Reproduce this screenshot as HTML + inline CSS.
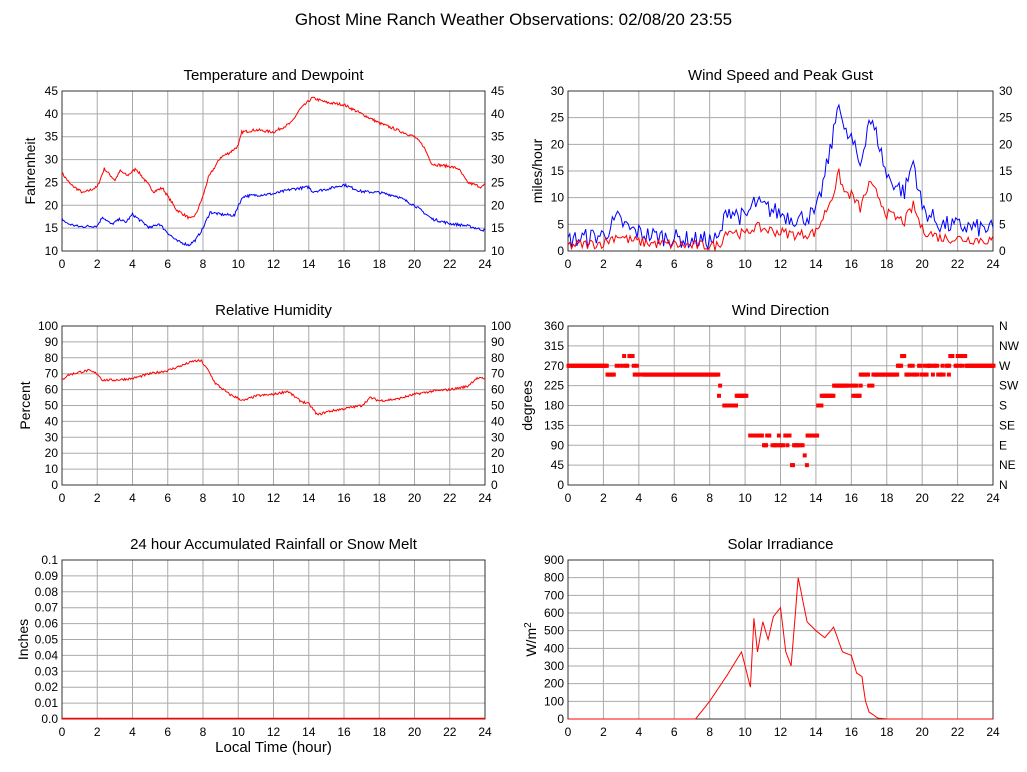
<!DOCTYPE html><html><head><meta charset="utf-8"><style>body{margin:0;background:#fff}svg{display:block;font-family:"Liberation Sans",sans-serif}</style></head><body>
<svg id="s" width="1027" height="772" xmlns="http://www.w3.org/2000/svg"></svg>
<script>
var S=document.getElementById('s'),h='';
var seed=7;function rnd(){seed=(seed*16807)%2147483647;return seed/2147483647;}
function T(x,y,t,sz,a,extra){h+='<text x="'+x+'" y="'+y+'" font-size="'+sz+'" text-anchor="'+(a||'middle')+'" '+(extra||'')+'>'+t+'</text>';}
T(513.5,25,'Ghost Mine Ranch Weather Observations: 02/08/20 23:55',17);
function panel(P){var x0=P.x0,x1=P.x1,y0=P.y0,y1=P.y1,n=P.n;
 for(var i=0;i<=12;i++){var x=x0+(x1-x0)*i/12;h+='<line x1="'+x+'" y1="'+y0+'" x2="'+x+'" y2="'+y1+'" stroke="#aaa" stroke-width="1"/>';T(x,y1+17,i*2,12);}
 for(var j=0;j<=n;j++){var y=y1-(y1-y0)*j/n;h+='<line x1="'+x0+'" y1="'+y+'" x2="'+x1+'" y2="'+y+'" stroke="#aaa" stroke-width="1"/>';T(x0-4,y+4,P.lab(j),12,'end');if(P.rl)T(x1+6,y+4,P.rl(j),12,'start');}
 h+='<rect x="'+x0+'" y="'+y0+'" width="'+(x1-x0)+'" height="'+(y1-y0)+'" fill="none" stroke="#333"/>';
 T((x0+x1)/2,y0-11,P.title,15);
 var yc=(y0+y1)/2;h+='<text x="0" y="0" font-size="14" text-anchor="middle" transform="translate('+(P.yx)+','+yc+') rotate(-90)">'+P.yl+'</text>';}
function interp(k,t){for(var i=0;i<k.length-2;i+=2){if(t<=k[i+2])return k[i+1]+(k[i+3]-k[i+1])*(t-k[i])/(k[i+2]-k[i]);}return k[k.length-1];}
function series(P,k,col,noise,min,max,step){var d='';step=step||0.05;for(var t=0;t<=24.001;t+=step){var v=interp(k,t)+(rnd()-0.5)*noise;if(min!=null)v=Math.max(min,v);var x=P.x0+(P.x1-P.x0)*t/24,y=P.y1-(P.y1-P.y0)*(v-P.lo)/(P.hi-P.lo);d+=(d?'L':'M')+x.toFixed(1)+','+y.toFixed(1);}h+='<path d="'+d+'" fill="none" stroke="'+col+'" stroke-width="1"/>';}
var A={x0:62,x1:485,y0:91,y1:251,n:7,lo:10,hi:45,title:'Temperature and Dewpoint',yl:'Fahrenheit',yx:35,lab:function(j){return 10+5*j},rl:function(j){return 10+5*j}};
panel(A);
series(A,[0,27,.5,24.5,1.2,22.7,2,24,2.4,28,3,25.5,3.3,27.5,3.7,26.5,4.2,28,4.6,26,5.2,23,5.7,23.8,6.5,19,7.3,17,7.6,18,8,22,8.3,26,9,30.5,9.5,31.5,10,33,10.2,36,11,36.5,12,36,13,38,13.5,41,14.2,43.5,15,42.5,16,42,17,40,18,38,19,36.5,20,35,20.5,33,21,29,22,28.5,22.5,28,23,25,23.8,24,24,24.5],'red',0.6);
series(A,[0,17,.3,16,1,15.3,2,15.5,2.3,17.5,2.8,15.8,3.3,17,3.6,16.2,4,18,4.4,16.8,5,15,5.5,16,6,14,6.5,12.2,7.2,11.3,7.6,12.5,8,15,8.4,18.5,9,18,9.8,17.8,10,20,10.3,22,12,22.5,13,23.5,14,24,14.2,23,15,23.5,16,24.5,17,23,18,22.8,19,22,20,20,21,17,22,16,23,15.5,24,14.5],'blue',0.6);
var B={x0:568,x1:993,y0:91,y1:251,n:6,lo:0,hi:30,title:'Wind Speed and Peak Gust',yl:'miles/hour',yx:542,lab:function(j){return 5*j},rl:function(j){return 5*j}};
panel(B);
var g=[0,2,2,3,2.8,6,3.5,4,4.5,3,7,2,8.5,2,9,8,10,6,10.5,9,12,7,13,6,14,7,14.5,14,15,22,15.3,29,15.6,22,16,21,16.5,16,17,25,17.5,21,18,14,19,11,19.5,17,20,8,21,5,24,4];
series(B,g,'blue',3.5,0,null,0.1);
series(B,g.map(function(v,i){return i%2?v*0.5:v}),'red',2,0,null,0.1);
var C={x0:62,x1:485,y0:326,y1:485,n:10,lo:0,hi:100,title:'Relative Humidity',yl:'Percent',yx:30,lab:function(j){return 10*j},rl:function(j){return 10*j}};
panel(C);
series(C,[0,66,.3,69,1,71,1.5,72,2,70,2.3,66,3,66,4,67,5,70,6,72,7,76,7.5,78,7.9,78,8.3,72,8.7,64,9.5,57,10.3,53,11,56,12,57,12.8,59,13.5,53,14,51,14.5,44,15,46,16,48,17,50,17.5,55,18,53,19,54,20,57,21,59,22,60,23,62,23.5,67,24,67],'red',1.5);
var dn=['N','NE','E','SE','S','SW','W','NW','N'];
var D={x0:568,x1:993,y0:326,y1:485,n:8,lo:0,hi:360,title:'Wind Direction',yl:'degrees',yx:532,lab:function(j){return 45*j},rl:function(j){return dn[j]}};
panel(D);
var segs=[[0,2.2,[270]],[2.2,2.6,[250]],[2.6,3.5,[270,292]],[3.5,4.2,[270,292,250]],[4.2,8.5,[250]],[8.5,8.8,[225,202]],[8.8,9.5,[180]],[9.5,10.1,[202]],[10.2,12.5,[112,90,112]],[12.5,13.5,[67,90,45,90]],[13.5,14.1,[112]],[14.1,14.3,[180]],[14.3,15,[202]],[15,15.6,[225]],[15.6,16.5,[202,225]],[16.5,17.3,[225,250]],[17.3,18.6,[250]],[18.6,19.8,[292,250,270]],[19.8,21.5,[270,250,270]],[21.5,22.5,[292,270]],[22.5,24,[270]]];
segs.forEach(function(s){for(var t=s[0];t<s[1];t+=0.06){var v=s[2][Math.floor(rnd()*s[2].length)];if(s[2].length>1&&rnd()<0.3)continue;var x=D.x0+(D.x1-D.x0)*t/24,y=D.y1-(D.y1-D.y0)*v/360;h+='<rect x="'+(x-1.5).toFixed(1)+'" y="'+(y-2)+'" width="4" height="4" fill="red"/>';}});
var E={x0:62,x1:485,y0:560,y1:719,n:10,lo:0,hi:0.1,title:'24 hour Accumulated Rainfall or Snow Melt',yl:'Inches',yx:28,lab:function(j){return j==0?'0.0':(j==10?'0.1':'0.0'+j)}};
panel(E);
h+='<line x1="62" y1="718.5" x2="485" y2="718.5" stroke="red" stroke-width="1.5"/>';
T(273.5,752,'Local Time (hour)',15);
var F={x0:568,x1:993,y0:560,y1:719,n:9,lo:0,hi:900,title:'Solar Irradiance',yl:'W/m<tspan font-size="10" dy="-5">2</tspan>',yx:536,lab:function(j){return 100*j}};
panel(F);
series(F,[0,0,7.2,0,8,100,9,250,9.8,380,10,300,10.3,180,10.5,570,10.7,380,11,550,11.3,450,11.6,580,12,630,12.3,380,12.6,300,13,800,13.5,550,14,500,14.5,460,15,520,15.5,380,16,360,16.3,260,16.6,240,16.8,100,17,40,17.5,5,18,0,24,0],'red',0,0,null,0.05);
S.innerHTML=h;
</script></body></html>
